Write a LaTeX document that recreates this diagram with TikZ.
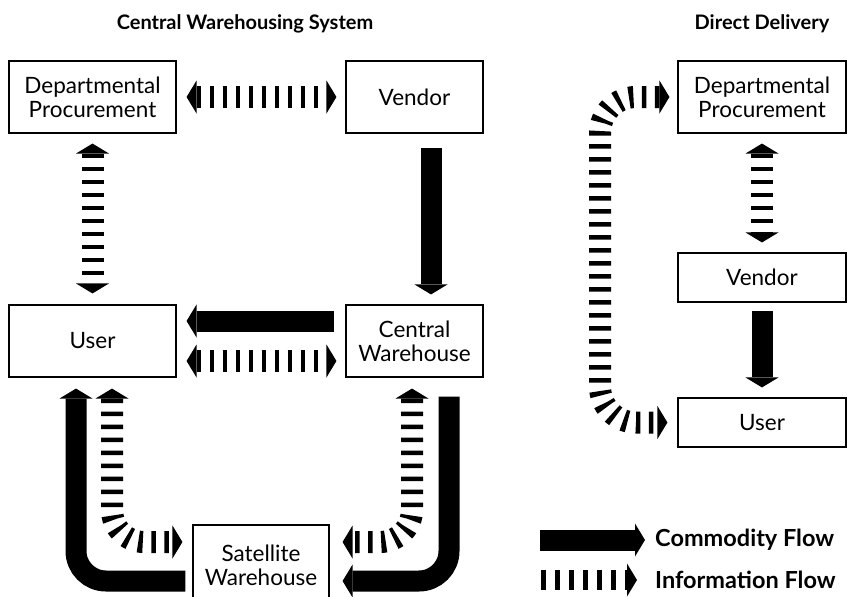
\documentclass[tikz,border=0pt]{standalone}
\usepackage{fontspec}
\setmainfont{Lato}
\usetikzlibrary{arrows.meta}

\begin{document}
\begin{tikzpicture}[x=1pt, y=-1pt,
		box/.style={draw, line width=1.1pt, align=center, inner sep=0pt, font=\fontsize{22.5}{24}\selectfont},
		heading/.style={font=\fontsize{20}{24}\selectfont\bfseries},
		key/.style={anchor=west, inner sep=0pt, font=\fontsize{23.5}{26}\selectfont\bfseries},
		>={Triangle[length=10pt, width=33pt, line width=0pt]},
		goodsflow/.style={line width=21pt, ->},
		infoflow/.style={line width=22pt, dash pattern=on 4.5pt off 8.5pt}]
		\useasboundingbox (0,0) rectangle (847,597);
		
		\node[heading] (chead) at (245,24) {Central Warehousing System};
		\node[heading] (dhead) at (762,24) {Direct Delivery};
		
		\node[box, minimum width=167pt, minimum height=72pt] (cdp) at (92.5,97) {Departmental\\Procurement};
		\node[box, minimum width=137pt, minimum height=72pt] (cven) at (414.5,97) {Vendor};
		\node[box, minimum width=167pt, minimum height=72pt] (cuser) at (92.5,341) {User};
		\node[box, minimum width=137pt, minimum height=72pt] (cwh) at (414.5,341) {Central\\Warehouse};
		\node[box, minimum width=136pt, minimum height=80pt] (swh) at (261,565) {Satellite\\Warehouse};
		
		\node[box, minimum width=168pt, minimum height=72pt] (ddp) at (762,97) {Departmental\\Procurement};
		\node[box, minimum width=168pt, minimum height=49pt] (dven) at (762,277.5) {Vendor};
		\node[box, minimum width=168pt, minimum height=49pt] (duser) at (762,422.5) {User};
		\coordinate (dbend) at (600,260);
		
		\draw[infoflow, <->, shorten <=10pt, shorten >=9pt] (cdp.east) -- (cven.west);
		\draw[infoflow, <->, shorten <=10pt, shorten >=11pt] (cdp.south) -- (cuser.north);
		\draw[goodsflow, shorten <=14pt, shorten >=10pt] ([xshift=16.5pt]cven.south) -- ([xshift=16.5pt]cwh.north);
		\draw[goodsflow, shorten <=11pt, shorten >=10pt] ([yshift=20pt]cwh.west) -- ([yshift=20pt]cuser.east);
		\draw[infoflow, <->, shorten <=10pt, shorten >=9pt] ([yshift=-20pt]cuser.east) -- ([yshift=-20pt]cwh.west);
		
		\draw[goodsflow, rounded corners=30pt, shorten <=7pt, shorten >=11pt] ([yshift=-16pt]swh.west) -| ([xshift=-16.5pt]cuser.south);
		\draw[infoflow, <->, rounded corners=32pt, shorten <=11pt, shorten >=10pt] ([xshift=19.5pt]cuser.south) |- ([yshift=23pt]swh.west);
		\draw[goodsflow, rounded corners=30pt, shorten <=19pt, shorten >=13pt] ([xshift=34.5pt]cwh.south) |- ([yshift=-16pt]swh.east);
		\draw[infoflow, <->, rounded corners=32pt, shorten <=11pt, shorten >=13pt] ([xshift=-2.5pt]cwh.south) |- ([yshift=23pt]swh.east);
		
		\draw[infoflow, <->, shorten <=10pt, shorten >=10pt] (ddp.south) -- (dven.north);
		\draw[goodsflow, shorten <=8pt, shorten >=10pt] (dven.south) -- (duser.north);
		\draw[infoflow, <->, rounded corners=36pt, shorten <=8pt, shorten >=10pt] (ddp.west) -- (dbend |- ddp.west) -- (dbend |- duser.west) -- (duser.west);
		
		\node[key] (goodskey) at (655,540) {Commodity Flow};
		\node[key] (infokey) at (655,580) {Information Flow};
		\coordinate (goodsstart) at (540,540);
		\coordinate (infostart) at (541,580);
		\draw[goodsflow, shorten >=10pt] (goodsstart) -- (goodskey.west);
		\draw[infoflow, ->, line width=20pt, dash pattern=on 5pt off 9pt, shorten >=18pt] (infostart) -- (infokey.west);
	\end{tikzpicture}
\end{document}
